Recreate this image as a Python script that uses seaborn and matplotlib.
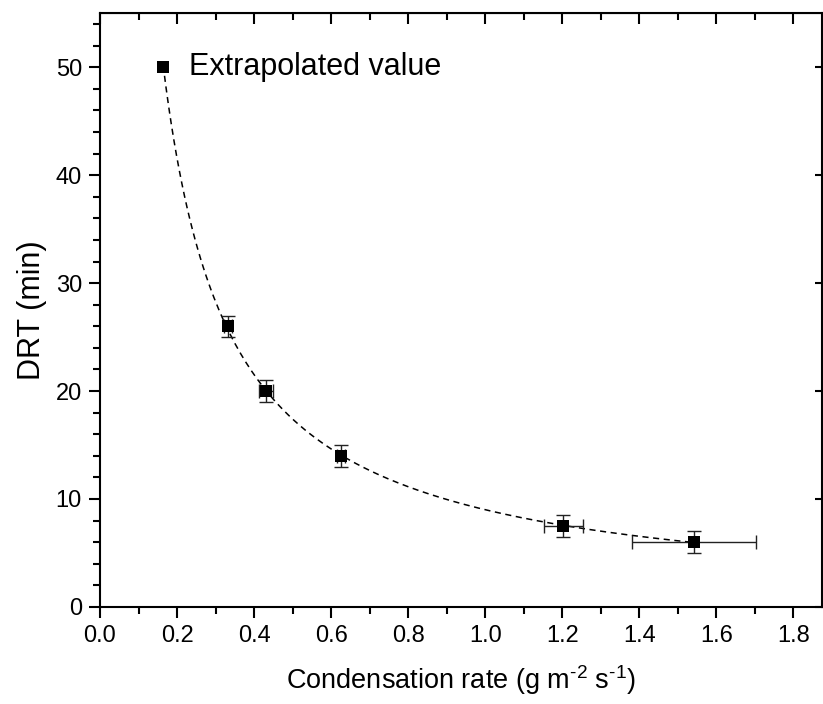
import numpy as np
import pandas as pd
import matplotlib
matplotlib.use("Agg")
import matplotlib.pyplot as plt
from matplotlib.ticker import MultipleLocator, FormatStrFormatter
import seaborn as sns

# values
rate = [0.164, 0.332, 0.431, 0.625, 1.203, 1.543]
drt = [50, 26, 20, 14, 7.5, 6]
rate_err = [0.0, 0.010, 0.018, 0.010, 0.050, 0.161]
drt_err = [0.0, 1.0, 1.0, 1.0, 1.0, 1.0]

sns.set_style("ticks")
plt.rcParams['font.family'] = ['Liberation Sans', 'DejaVu Sans']
plt.rcParams['mathtext.fontset'] = 'custom'
plt.rcParams['mathtext.rm'] = 'Liberation Sans'
for k in ['text.color', 'axes.labelcolor', 'xtick.color', 'ytick.color', 'axes.edgecolor']:
    plt.rcParams[k] = 'black'

df = pd.DataFrame({"rate": rate, "drt": drt, "xerr": rate_err, "yerr": drt_err})

# trend line through the points (fit in log space)
coef = np.polyfit(np.log(df["rate"]), np.log(df["drt"]), 2)
xs = np.linspace(df["rate"].min(), df["rate"].max(), 200)
fit = pd.DataFrame({"rate": xs, "drt": np.exp(np.polyval(coef, np.log(xs)))})

fig = plt.figure(figsize=(8.23, 7.04), dpi=100)
ax = fig.add_axes([0.1215, 0.138, 0.8775, 0.843])

sns.lineplot(data=fit, x="rate", y="drt", ax=ax, color="black",
             linestyle=(0, (4, 3)), linewidth=1.1, zorder=2)

meas = df.iloc[1:]
ax.errorbar(meas["rate"], meas["drt"], xerr=meas["xerr"], yerr=meas["yerr"],
            fmt="none", ecolor="#222222", elinewidth=1.0, capsize=5, capthick=1.0, zorder=3)
sns.scatterplot(data=df, x="rate", y="drt", ax=ax, marker="s", s=85,
                color="black", edgecolor="black", linewidth=0, zorder=4)

ax.text(0.23, 50, "Extrapolated value", fontsize=22, va="center", ha="left")

ax.set_xlim(0, 1.875)
ax.set_ylim(0, 55)
ax.xaxis.set_major_locator(MultipleLocator(0.2))
ax.xaxis.set_minor_locator(MultipleLocator(0.1))
ax.yaxis.set_major_locator(MultipleLocator(10))
ax.yaxis.set_minor_locator(MultipleLocator(2))
ax.xaxis.set_major_formatter(FormatStrFormatter("%.1f"))

for s in ax.spines.values():
    s.set_linewidth(1.5)

ax.tick_params(which="major", direction="out", length=8, width=1.5, labelsize=17,
               top=False, right=False, pad=5)
ax.tick_params(which="minor", direction="out", length=5, width=1.5, top=False, right=False)

# inward ticks on top and right
top = ax.secondary_xaxis("top")
top.xaxis.set_major_locator(MultipleLocator(0.2))
top.xaxis.set_minor_locator(MultipleLocator(0.1))
top.tick_params(which="major", direction="in", length=8, width=1.5, labeltop=False)
top.tick_params(which="minor", direction="in", length=5, width=1.5)
right = ax.secondary_yaxis("right")
right.yaxis.set_major_locator(MultipleLocator(10))
right.tick_params(which="major", direction="in", length=5, width=1.5, labelright=False)
right.tick_params(which="minor", length=0)

ax.set_xlabel("Condensation rate (g m$^{\\text{-2}}$ s$^{\\text{-1}}$)", fontsize=19.5, labelpad=12)
ax.set_ylabel("DRT (min)", fontsize=22, labelpad=6)

fig.savefig("out.png", dpi=100)
